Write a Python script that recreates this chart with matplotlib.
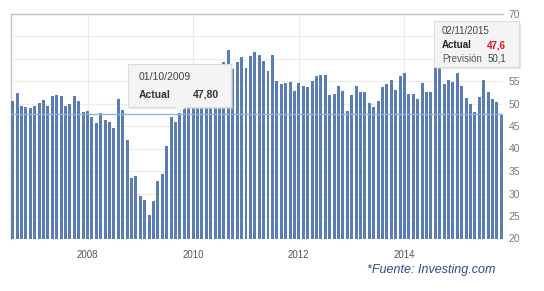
import matplotlib
matplotlib.use("Agg")
import matplotlib.pyplot as plt
from matplotlib.patches import FancyBboxPatch, Polygon, Rectangle

plt.rcParams['font.family'] = ['Liberation Sans', 'DejaVu Sans']

# Monthly values, Aug 2006 .. Nov 2015 (112 bars)
values = [
    50.6, 52.3, 49.5, 49.3, 49.0, 49.5, 50.2, 50.8, 49.5, 51.7, 51.9, 51.7,
    49.5, 49.8, 51.7, 50.6, 48.1, 48.3,
    46.9, 45.6, 48.0, 46.3, 45.9, 44.5, 51.0, 48.5, 41.9, 33.5, 34.0, 29.5,
    28.5, 25.2, 28.3, 32.8, 34.4, 40.5, 46.9, 45.8, 47.8,
    50.0, 52.0, 53.5, 56.0, 55.0, 57.5, 58.0, 57.0, 58.5,
    59.2, 62.0, 57.6, 59.2, 60.3, 58.0, 60.5, 61.4, 60.8, 59.4, 57.2, 60.8,
    55.0, 54.4, 54.5, 54.7, 52.7, 54.5, 53.9, 53.6, 55.0, 56.2, 56.3, 56.4,
    51.9, 52.2, 53.9, 52.7, 48.3,
    51.9, 53.9, 52.5, 52.5, 50.2, 49.2, 50.6, 53.6, 54.3, 55.3, 53.0, 56.2,
    56.8, 52.1, 52.1, 51.0, 54.6, 52.5, 52.5, 58.0, 57.8, 54.4, 55.3, 54.7,
    56.8, 53.9, 51.2, 49.8, 48.1, 51.5, 55.3, 52.5, 51.0, 50.4, 47.6,
]
start_year, start_month = 2006, 8
year_labels = ["2008", "2010", "2012", "2014"]
y_ticks = [20, 25, 30, 35, 40, 45, 50, 55, 60, 65, 70]
hover_level = 47.7
tip1_date, tip1_label, tip1_value = "01/10/2009", "Actual", "47,80"
tip2_date, tip2_label, tip2_value = "02/11/2015", "Actual", "47,6"
tip2_label2, tip2_value2 = "Previsión", "50,1"
source = "*Fuente: Investing.com"

W, H = 544, 291
fig = plt.figure(figsize=(W / 100, H / 100), dpi=100)
fig.patch.set_facecolor("white")

def fx(px):
    return px / W

def fy(py):
    return 1 - py / H

left_px, right_px, top_px, bot_px = 11, 503, 13.5, 238.5
ax = fig.add_axes([fx(left_px), fy(bot_px), fx(right_px) - fx(left_px), fy(top_px) - fy(bot_px)])

x = list(range(len(values)))
ax.bar(x, [v - 20 for v in values], bottom=20, width=0.68, color="#5a7db3",
       edgecolor="none", zorder=3)
ax.set_ylim(20, 70)
ax.set_xlim(-0.4, len(values) - 0.6)

# year ticks at January of each labelled year
xt = [(int(y) - start_year) * 12 + (1 - start_month) for y in year_labels]
ax.set_xticks(xt)
ax.set_xticklabels(year_labels, fontsize=7, color="#555555")
ax.set_yticks(y_ticks)
ax.set_yticklabels([str(t) for t in y_ticks], fontsize=7.5, color="#7a7a7a")
ax.yaxis.tick_right()
ax.tick_params(axis="x", length=0, pad=8)
ax.tick_params(axis="y", length=0, pad=4)

ax.grid(True, color="#ececec", linewidth=0.8, zorder=0)
for side in ["bottom", "right"]:
    ax.spines[side].set_visible(False)
for side in ["top", "left"]:
    ax.spines[side].set_color("#c4c4c4")
    ax.spines[side].set_linewidth(1.0)

ax.axhline(hover_level, color="#8fb3de", linewidth=1.0, zorder=4)

# Tooltip 1
def tooltip(x0, y0, x1, y1, arrow=None):
    sh = FancyBboxPatch((fx(x0 + 2), fy(y1 + 2)), fx(x1 - x0), fy(y0) - fy(y1),
                        boxstyle="square,pad=0", transform=fig.transFigure,
                        facecolor="#d8d8d8", edgecolor="none", alpha=0.6, zorder=9)
    fig.add_artist(sh)
    box = Rectangle((fx(x0), fy(y1)), fx(x1 - x0), fy(y0) - fy(y1),
                    transform=fig.transFigure, facecolor="#f4f4f4",
                    edgecolor="#dcdcdc", linewidth=0.8, zorder=10)
    fig.add_artist(box)
    if arrow is not None:
        ax_, ay_ = arrow
        tri = Polygon([(fx(ax_ - 6), fy(y1 - 0.5)), (fx(ax_ + 6), fy(y1 - 0.5)), (fx(ax_), fy(y1 + 6))],
                      closed=True, transform=fig.transFigure, facecolor="#f4f4f4",
                      edgecolor="none", zorder=11)
        fig.add_artist(tri)

tooltip(128, 64, 231, 107, arrow=(180, 113))
fig.text(fx(139), fy(77), tip1_date, fontsize=7.5, color="#444444", va="center", zorder=12)
fig.text(fx(139), fy(95), tip1_label, fontsize=7.5, color="#333333", fontweight="bold",
         va="center", zorder=12)
fig.text(fx(219), fy(95), tip1_value, fontsize=7.5, color="#333333", fontweight="bold",
         va="center", ha="right", zorder=12)

tooltip(434, 21, 519, 67)
fig.text(fx(442), fy(31), tip2_date, fontsize=7, color="#444444", va="center", zorder=12)
fig.text(fx(442), fy(45), tip2_label, fontsize=7, color="#222222", fontweight="bold",
         va="center", zorder=12)
fig.text(fx(506), fy(45), tip2_value, fontsize=7, color="#e8101a", fontweight="bold",
         va="center", ha="right", zorder=12)
fig.text(fx(442), fy(59), tip2_label2, fontsize=7, color="#555555", va="center", zorder=12)
fig.text(fx(506), fy(59), tip2_value2, fontsize=7, color="#444444", va="center",
         ha="right", zorder=12)

fig.text(fx(495), fy(270), source, fontsize=9, color="#2b4a8c", style="italic",
         ha="right", va="center")

fig.savefig("out.png", dpi=100, facecolor="white")
